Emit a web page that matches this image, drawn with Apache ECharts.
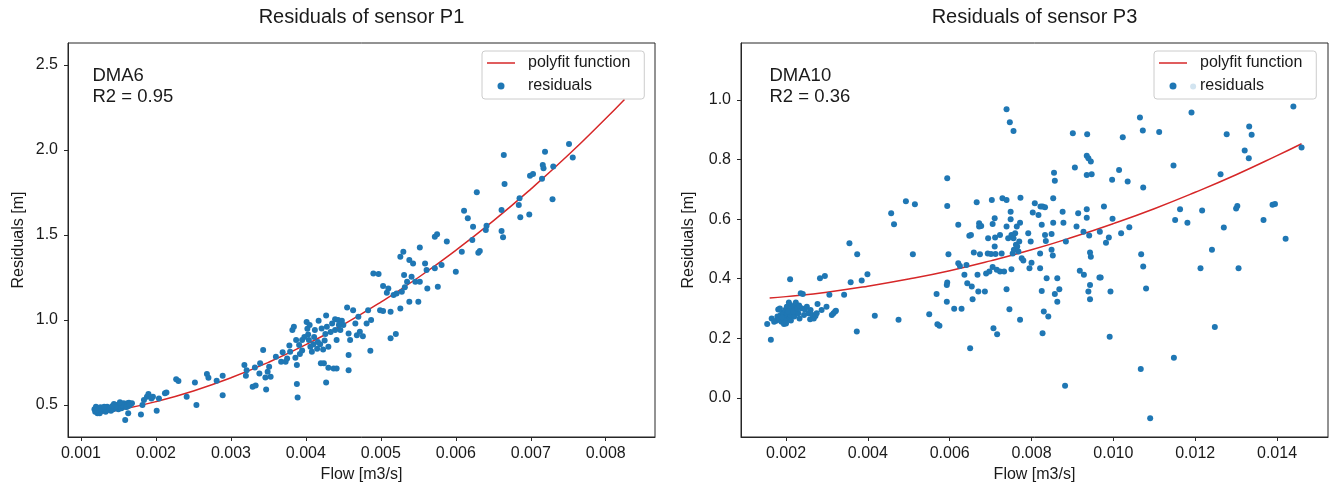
<!DOCTYPE html>
<html><head><meta charset="utf-8">
<script src="https://cdn.jsdelivr.net/npm/echarts@6/dist/echarts.min.js"></script>
<style>html,body{margin:0;padding:0;background:#fff}#c{width:1330px;height:489px}</style>
</head><body><div id="c"></div>
<script>
// ---------- data ----------
const titles = ['Residuals of sensor P1', 'Residuals of sensor P3'];
const notes = ['DMA6\nR2 = 0.95', 'DMA10\nR2 = 0.36'];
const xName = 'Flow [m3/s]';
const yName = 'Residuals [m]';
const legendNames = ['polyfit function', 'residuals'];

const p1XTicks = [0.001, 0.002, 0.003, 0.004, 0.005, 0.006, 0.007, 0.008];
const p1YTicks = [0.5, 1.0, 1.5, 2.0, 2.5];
const p3XTicks = [0.002, 0.004, 0.006, 0.008, 0.010, 0.012, 0.014];
const p3YTicks = [0.0, 0.2, 0.4, 0.6, 0.8, 1.0];

const p1Flow = [
0.00118,0.00119,0.00120,0.00122,0.00123,0.00124,0.00126,0.00128,0.00130,0.00132,
0.00133,0.00135,0.00138,0.00140,0.00141,0.00143,0.00145,0.00147,0.00148,0.00150,
0.00151,0.00153,0.00154,0.00156,0.00157,0.00159,0.00160,0.00162,0.00163,0.00164,
0.00166,0.00168,0.00144,0.00134,0.00125,0.00159,0.00163,0.00180,0.00182,0.00184,
0.00188,0.00190,0.00194,0.00196,0.00201,0.00204,0.00212,0.00214,0.00227,0.00230,
0.00241,0.00252,0.00254,0.00121,0.00127,0.00136,0.00146,0.00155,0.00161,0.00165,
0.00131,0.00142,0.00152,
0.00268,0.00270,0.00281,0.00289,0.00289,0.00318,0.00321,0.00320,0.00329,0.00333,
0.00332,0.00339,0.00338,0.00343,0.00346,0.00349,0.00351,0.00353,0.00347,0.00360,
0.00367,0.00369,0.00373,0.00375,0.00379,0.00382,0.00384,0.00387,0.00386,0.00388,
0.00388,0.00389,0.00391,0.00392,0.00395,0.00401,0.00402,0.00403,0.00404,0.00406,
0.00408,0.00410,0.00412,0.00415,0.00417,0.00419,0.00420,0.00423,0.00426,0.00427,
0.00428,0.00430,0.00424,0.00427,0.00430,0.00435,0.00439,0.00439,0.00441,0.00437,
0.00441,0.00443,0.00446,0.00448,0.00450,0.00455,0.00457,0.00457,0.00457,0.00459,
0.00463,0.00466,0.00468,0.00472,0.00476,0.00470,0.00481,0.00483,0.00486,0.00487,
0.00490,0.00497,0.00499,0.00503,0.00503,0.00508,0.00510,0.00513,0.00513,0.00520,
0.00517,0.00521,0.00526,0.00526,0.00528,0.00530,0.00531,0.00532,0.00535,0.00538,
0.00538,0.00541,0.00543,0.00546,0.00550,0.00552,0.00552,0.00559,0.00562,0.00561,
0.00398,0.00405,0.00411,0.00416,0.00421,0.00425,0.00433,0.00444,0.00395,0.00378,
0.00572,0.00572,0.00575,0.00576,0.00581,0.00588,0.00600,0.00608,0.00611,0.00616,
0.00623,0.00622,0.00628,0.00630,0.00632,0.00640,0.00641,0.00661,0.00661,0.00663,
0.00664,0.00665,0.00684,0.00685,0.00686,0.00698,0.00699,0.00703,0.00715,0.00716,
0.00717,0.00719,0.00729,0.00730,0.00751,0.00756];
const p1Res = [
0.475,0.461,0.490,0.451,0.475,0.461,0.487,0.467,0.475,0.481,
0.461,0.490,0.475,0.467,0.487,0.475,0.494,0.481,0.500,0.475,
0.490,0.506,0.481,0.494,0.510,0.490,0.500,0.510,0.494,0.514,
0.506,0.510,0.506,0.471,0.451,0.412,0.451,0.445,0.500,0.530,
0.549,0.565,0.539,0.549,0.467,0.539,0.569,0.573,0.651,0.641,
0.549,0.632,0.500,0.470,0.478,0.483,0.488,0.497,0.488,0.498,
0.490,0.495,0.516,
0.682,0.660,0.643,0.672,0.558,0.735,0.705,0.672,0.607,0.615,
0.721,0.745,0.686,0.823,0.662,0.696,0.725,0.666,0.592,0.784,
0.754,0.811,0.754,0.774,0.813,0.941,0.960,0.882,0.778,0.735,
0.623,0.545,0.853,0.800,0.882,0.988,0.949,0.915,0.882,0.843,
0.813,0.858,0.941,0.831,0.996,0.858,0.745,0.827,0.917,1.027,
0.960,0.843,0.745,0.633,0.719,0.980,1.004,0.941,0.882,0.715,
0.715,1.000,0.941,0.996,0.970,1.074,0.921,0.794,0.705,0.882,
1.058,0.980,0.911,0.931,0.905,1.019,0.980,1.058,0.819,1.000,
1.274,1.270,1.058,1.200,1.053,1.160,1.186,1.049,0.892,0.917,
1.147,1.156,1.068,1.372,1.166,1.402,1.264,1.192,1.225,1.353,
1.107,1.254,1.333,1.225,1.107,1.427,1.225,1.333,1.186,1.294,
0.900,0.970,0.900,0.870,0.950,0.880,0.930,0.970,0.820,0.850,
1.304,1.490,1.504,1.196,1.323,1.461,1.284,1.402,1.643,1.598,
1.549,1.470,1.751,1.396,1.406,1.529,1.555,1.647,1.523,1.486,
1.971,1.800,1.676,1.716,1.604,1.621,1.849,1.859,1.831,1.912,
1.892,1.990,1.710,1.902,2.035,1.955];

const p1FitFlow = [0.0012,0.0015,0.002,0.0025,0.003,0.0035,0.004,0.0045,0.005,0.0055,0.006,0.0065,0.007,0.0075,0.008,0.00825];
const p1FitRes  = [0.447,0.470,0.520,0.583,0.660,0.751,0.855,0.973,1.105,1.250,1.410,1.583,1.770,1.970,2.185,2.297];

const p3Flow = [
0.00154,0.00163,0.00165,0.00171,0.00176,0.00179,0.00181,0.00184,0.00187,0.00189,
0.00192,0.00194,0.00195,0.00198,0.00200,0.00202,0.00203,0.00206,0.00208,0.00210,
0.00211,0.00214,0.00216,0.00220,0.00222,0.00224,0.00226,0.00230,0.00233,0.00236,
0.00238,0.00241,0.00244,0.00246,0.00251,0.00255,0.00259,0.00260,0.00265,0.00268,
0.00272,0.00275,0.00277,0.00283,0.00287,0.00295,0.00299,0.00306,0.00312,0.00316,
0.00320,0.00322,0.00342,0.00358,0.00373,0.00374,0.00210,0.00355,
0.00185,0.00197,0.00205,0.00212,0.00218,0.00200,0.00190,0.00207,0.00228,0.00232,
0.00385,0.00399,0.00417,0.00457,0.00464,0.00475,0.00493,0.00510,0.00515,0.00550,
0.00568,0.00570,0.00575,0.00593,0.00594,0.00594,0.00594,0.00593,0.00597,0.00611,
0.00621,0.00621,0.00625,0.00629,0.00636,0.00641,0.00643,0.00648,0.00652,0.00654,
0.00656,0.00659,0.00666,0.00668,0.00670,0.00672,0.00672,0.00674,0.00677,0.00686,
0.00689,0.00693,0.00694,0.00697,0.00701,0.00703,0.00705,0.00705,0.00707,0.00710,
0.00710,0.00711,0.00712,0.00715,0.00716,0.00723,0.00723,0.00727,0.00729,0.00733,
0.00739,0.00739,0.00739,0.00739,0.00743,0.00746,0.00747,0.00749,0.00749,0.00751,
0.00751,0.00754,0.00756,0.00756,0.00757,0.00760,0.00762,0.00764,0.00765,0.00768,
0.00770,0.00772,0.00772,0.00773,0.00776,0.00780,0.00792,0.00795,0.00798,0.00800,
0.00803,0.00808,0.00817,0.00821,0.00821,0.00822,0.00825,0.00827,0.00825,0.00827,
0.00830,0.00833,0.00833,0.00835,0.00837,0.00841,0.00849,0.00849,0.00852,0.00853,
0.00855,0.00857,0.00853,0.00857,0.00863,0.00863,0.00868,0.00876,0.00878,0.00884,
0.00901,0.00906,0.00910,0.00914,0.00918,0.00927,0.00928,0.00935,0.00935,0.00936,
0.00935,0.00939,0.00945,0.00943,0.00945,0.00947,0.00935,0.00941,0.00943,0.00939,
0.00943,0.00966,0.00967,0.00650,
0.01191,0.01440,0.01065,0.01072,0.01112,0.01023,0.01277,0.01332,0.01338,0.01147,
0.01014,0.00997,0.01035,0.01073,0.00977,0.00998,0.00989,0.00982,0.01019,0.01039,
0.01151,0.01163,0.01181,0.01217,0.01262,0.01270,0.01300,0.01303,0.01321,0.01331,
0.01367,0.01389,0.01395,0.01421,0.01460,0.01068,0.01073,0.01213,0.01241,0.01306,
0.00969,0.00993,0.01080,0.01248,0.00991,0.00882,0.01148,0.01067,0.01090,0.01195];
const p3Res = [
0.248,0.195,0.267,0.256,0.259,0.273,0.297,0.262,0.278,0.256,
0.286,0.267,0.248,0.295,0.273,0.306,0.284,0.262,0.293,0.312,
0.275,0.286,0.301,0.273,0.312,0.320,0.290,0.284,0.267,0.351,
0.301,0.349,0.278,0.297,0.306,0.284,0.264,0.295,0.278,0.267,
0.275,0.284,0.315,0.402,0.295,0.409,0.306,0.346,0.278,0.284,
0.290,0.293,0.346,0.388,0.223,0.482,0.398,0.519,
0.300,0.260,0.290,0.260,0.290,0.250,0.270,0.320,0.300,0.310,
0.394,0.415,0.276,0.620,0.583,0.262,0.660,0.482,0.650,0.281,
0.349,0.247,0.242,0.379,0.387,0.737,0.644,0.323,0.482,0.299,
0.581,0.452,0.443,0.299,0.413,0.446,0.385,0.544,0.547,0.374,
0.331,0.488,0.657,0.413,0.357,0.586,0.575,0.482,0.577,0.357,
0.418,0.485,0.536,0.424,0.483,0.664,0.584,0.439,0.234,0.603,
0.508,0.538,0.483,0.430,0.214,0.547,0.424,0.485,0.670,0.424,
0.969,0.664,0.575,0.365,0.536,0.298,0.925,0.625,0.600,0.547,
0.432,0.485,0.896,0.536,0.497,0.553,0.514,0.575,0.508,0.491,
0.525,0.588,0.262,0.672,0.469,0.461,0.553,0.435,0.525,0.454,
0.622,0.653,0.614,0.435,0.485,0.642,0.581,0.642,0.359,0.217,
0.290,0.547,0.640,0.527,0.402,0.273,0.550,0.497,0.478,0.670,
0.756,0.729,0.588,0.349,0.402,0.323,0.365,0.625,0.588,0.525,
0.888,0.773,0.575,0.620,0.427,0.558,0.413,0.633,0.605,0.885,
0.813,0.804,0.793,0.488,0.474,0.751,0.748,0.545,0.379,0.357,
0.331,0.404,0.558,0.167,
0.958,0.978,0.941,0.897,0.892,0.875,0.885,0.911,0.883,0.780,
0.765,0.732,0.726,0.706,0.642,0.601,0.538,0.521,0.553,0.573,
0.597,0.633,0.588,0.629,0.751,0.572,0.636,0.644,0.830,0.804,
0.597,0.648,0.651,0.534,0.840,0.482,0.441,0.435,0.497,0.435,
0.404,0.357,0.367,0.238,0.205,0.041,0.135,0.097,-0.068,1.045];

const p3FitFlow = [0.0016,0.002,0.003,0.004,0.005,0.006,0.007,0.008,0.009,0.010,0.011,0.012,0.013,0.014,0.0146];
const p3FitRes  = [0.335,0.340,0.355,0.375,0.399,0.427,0.460,0.497,0.539,0.585,0.635,0.690,0.749,0.813,0.853];

// ---------- chart ----------
const FONT = '"Liberation Sans", Arial, sans-serif';
const TXT = '#1a1a1a';
const AX = '#262626';
const zip = (a, b) => a.map((v, i) => [v, b[i]]);

function xAxisOf(idx, min, max, ticks, dec) {
  return {
    type: 'value', gridIndex: idx, min: min, max: max,
    name: xName, nameLocation: 'middle', nameGap: 29,
    nameTextStyle: {fontFamily: FONT, fontSize: 16, color: TXT},
    axisLine: {show: true, onZero: false, lineStyle: {color: AX, width: 1}},
    axisTick: {show: true, length: 4, lineStyle: {color: AX}, customValues: ticks},
    axisLabel: {customValues: ticks, formatter: v => Number(v).toFixed(dec),
      fontFamily: FONT, fontSize: 16, color: TXT, margin: 9},
    splitLine: {show: false}
  };
}
function yAxisOf(idx, min, max, ticks, dec, gap) {
  return {
    type: 'value', gridIndex: idx, min: min, max: max,
    name: yName, nameLocation: 'middle', nameGap: gap,
    nameTextStyle: {fontFamily: FONT, fontSize: 16, color: TXT},
    axisLine: {show: true, onZero: false, lineStyle: {color: AX, width: 1}},
    axisTick: {show: true, length: 4, lineStyle: {color: AX}, customValues: ticks},
    axisLabel: {customValues: ticks, formatter: v => Number(v).toFixed(dec),
      fontFamily: FONT, fontSize: 16, color: TXT, margin: 10},
    splitLine: {show: false}
  };
}
const lineIcon = 'path://M0,0 L28,0 L28,1.5 L0,1.5 Z';
function legendOf(left) {
  return {
    left: left, top: 51, orient: 'vertical', selectedMode: false,
    data: [{name: legendNames[0], icon: lineIcon}, {name: legendNames[1], icon: 'circle'}],
    itemWidth: 28, itemHeight: 7, itemGap: 7,
    padding: [4, 14, 5, 5],
    backgroundColor: 'rgba(255,255,255,0.8)',
    borderColor: '#cccccc', borderWidth: 1, borderRadius: 3,
    textStyle: {fontFamily: FONT, fontSize: 16, color: TXT, padding: [0, 0, 0, 8]}
  };
}
const lineStyle = {color: '#d62728', width: 1.5};
const dotColor = '#1f77b4';

const option = {
  animation: false,
  backgroundColor: '#ffffff',
  title: [
    {text: titles[0], left: 361.5, top: 7, textAlign: 'center', padding: 0,
     textStyle: {fontFamily: FONT, fontSize: 20, fontWeight: 'normal', color: TXT}},
    {text: titles[1], left: 1034.5, top: 7, textAlign: 'center', padding: 0,
     textStyle: {fontFamily: FONT, fontSize: 20, fontWeight: 'normal', color: TXT}}
  ],
  grid: [
    {left: 68, top: 43, width: 587, height: 394, show: true, borderColor: AX, borderWidth: 1, backgroundColor: 'transparent'},
    {left: 741, top: 43, width: 587, height: 394, show: true, borderColor: AX, borderWidth: 1, backgroundColor: 'transparent'}
  ],
  xAxis: [
    xAxisOf(0, 0.000827, 0.008657, p1XTicks, 3),
    xAxisOf(1, 0.0009, 0.015246, p3XTicks, 3)
  ],
  yAxis: [
    yAxisOf(0, 0.312, 2.629, p1YTicks, 1, 41),
    yAxisOf(1, -0.131, 1.191, p3YTicks, 1, 44)
  ],
  legend: [legendOf(482), legendOf(1154)],
  graphic: [
    {type: 'text', left: 92.5, top: 65.5, style: {text: notes[0], font: '18.5px "Liberation Sans", Arial, sans-serif', fill: TXT, lineHeight: 21}},
    {type: 'text', left: 769.5, top: 65.5, style: {text: notes[1], font: '18.5px "Liberation Sans", Arial, sans-serif', fill: TXT, lineHeight: 21}}
  ],
  series: [
    {name: legendNames[0], type: 'line', xAxisIndex: 0, yAxisIndex: 0, data: zip(p1FitFlow, p1FitRes),
     symbol: 'none', smooth: true, lineStyle: lineStyle, itemStyle: {color: lineStyle.color}, z: 2},
    {name: legendNames[1], type: 'scatter', xAxisIndex: 0, yAxisIndex: 0, data: zip(p1Flow, p1Res),
     symbol: 'circle', symbolSize: 6, itemStyle: {color: dotColor, opacity: 1}, z: 3},
    {name: legendNames[0], type: 'line', xAxisIndex: 1, yAxisIndex: 1, data: zip(p3FitFlow, p3FitRes),
     symbol: 'none', smooth: true, lineStyle: lineStyle, itemStyle: {color: lineStyle.color}, z: 2},
    {name: legendNames[1], type: 'scatter', xAxisIndex: 1, yAxisIndex: 1, data: zip(p3Flow, p3Res),
     symbol: 'circle', symbolSize: 6, itemStyle: {color: dotColor, opacity: 1}, z: 3}
  ]
};
const chart = echarts.init(document.getElementById('c'));
chart.setOption(option);
</script>
</body></html>
